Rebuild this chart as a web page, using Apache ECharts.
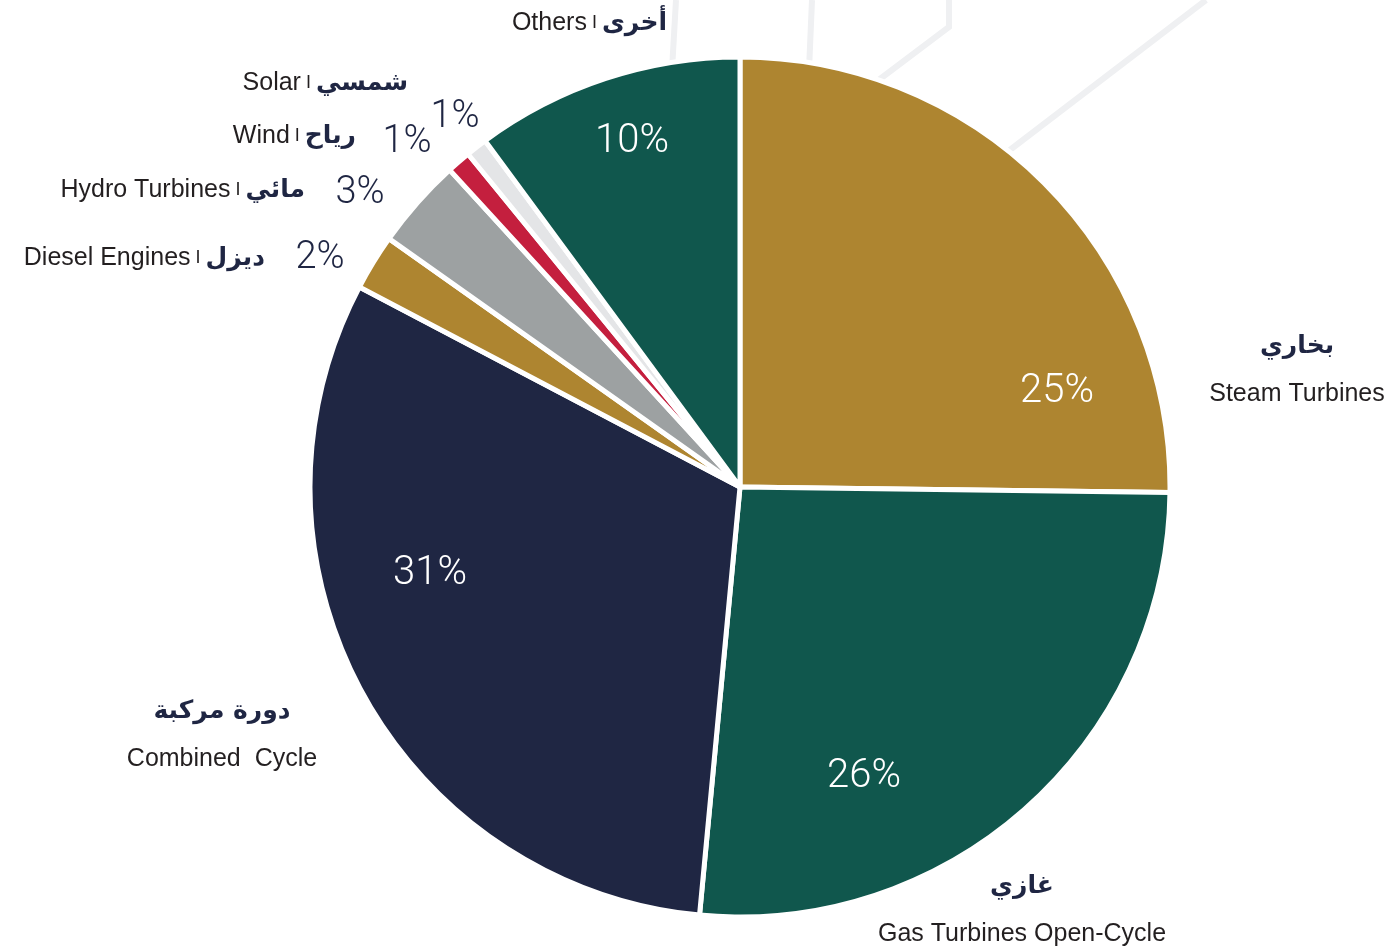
<!DOCTYPE html>
<html>
<head>
<meta charset="utf-8">
<script src="https://cdn.jsdelivr.net/npm/echarts@6/dist/echarts.min.js"></script>
<style>
  html, body { margin: 0; background: #fff; }
  #chart { width: 1391px; height: 951px; }
</style>
</head>
<body>
<div id="chart"></div>
<script>
// generation capacity mix, clockwise from 12 o'clock
const namesEn = ['Steam Turbines', 'Gas Turbines Open-Cycle', 'Combined  Cycle', 'Diesel Engines', 'Hydro Turbines', 'Wind', 'Solar', 'Others'];
const namesAr = ['بخاري', 'غازي', 'دورة مركبة', 'ديزل', 'مائي', 'رياح', 'شمسي', 'أخرى'];
const shares = [25.2, 26.3, 31.2, 2.1, 3.4, 0.9, 0.8, 10.1];
const shareLabels = ['25%', '26%', '31%', '2%', '3%', '1%', '1%', '10%'];

const colors = ['#ae8530', '#10574d', '#1f2643', '#ae8530', '#9da1a2', '#c41f3e', '#e4e5e7', '#10574d'];
const insideIdx = [0, 1, 2, 7];

// where the labels sit (px)
const pctPos = [[1057, 392], [864, 777], [430, 574], [320, 258], [360, 193], [407, 142], [455, 117], [632, 142]];
const namePos = [[1297, 370], [1022, 910], [222, 735], [265, 258], [305, 190], [356, 136], [408, 83], [667, 23]];

let chart = echarts.init(document.getElementById('chart'));

let pieData = shares.map((v, i) => ({
    name: namesEn[i],
    value: v,
    itemStyle: { color: colors[i] },
    label: insideIdx.includes(i)
        ? { color: '#ffffff', fontSize: 40 }
        : { color: '#1f2643', fontSize: 38 }
}));

let nameData = shares.map((v, i) => ({ name: namesEn[i], value: v }));

chart.setOption({
    animation: false,
    graphic: [
        { type: 'polyline', z: 0, shape: { points: [[676, 0], [672, 70]] }, style: { stroke: '#eff0f2', lineWidth: 6, fill: null } },
        { type: 'polyline', z: 0, shape: { points: [[812, 0], [809, 70]] }, style: { stroke: '#eff0f2', lineWidth: 6, fill: null } },
        { type: 'polyline', z: 0, shape: { points: [[949, 0], [949, 27], [872, 85]] }, style: { stroke: '#eff0f2', lineWidth: 6, fill: null } },
        { type: 'polyline', z: 0, shape: { points: [[1206, 0], [1002, 156]] }, style: { stroke: '#eff0f2', lineWidth: 6, fill: null } }
    ],
    series: [
        {
            type: 'pie',
            z: 5,
            center: [740, 487],
            radius: 430,
            startAngle: 90,
            clockwise: true,
            silent: true,
            itemStyle: { borderColor: '#ffffff', borderWidth: 5 },
            label: {
                show: true,
                fontFamily: 'Liberation Sans Narrow, Roboto',
                fontWeight: 300,
                formatter: p => shareLabels[p.dataIndex]
            },
            labelLine: { show: false },
            labelLayout: p => ({
                x: pctPos[p.dataIndex][0],
                y: pctPos[p.dataIndex][1],
                align: 'center',
                verticalAlign: 'middle'
            }),
            data: pieData
        },
        {
            type: 'pie',
            z: 6,
            center: [740, 487],
            radius: 430,
            startAngle: 90,
            clockwise: true,
            silent: true,
            itemStyle: { color: 'rgba(0,0,0,0)', borderWidth: 0 },
            label: {
                show: true,
                formatter: p => {
                    let i = p.dataIndex;
                    if (i < 3) return '{ar|' + namesAr[i] + '}\n{en|' + namesEn[i] + '}';
                    return '{en|' + namesEn[i] + '}{sep| I }{ar|' + namesAr[i] + '}';
                },
                rich: {
                    en: { fontFamily: 'Liberation Sans', fontSize: 25, color: '#231f20', lineHeight: 48 },
                    ar: { fontFamily: 'DejaVu Sans', fontWeight: 'bold', fontSize: 25, color: '#1f2643', lineHeight: 48 },
                    sep: { fontFamily: 'Liberation Sans', fontSize: 18, color: '#231f20' }
                }
            },
            labelLine: { show: false },
            labelLayout: p => ({
                x: namePos[p.dataIndex][0],
                y: namePos[p.dataIndex][1],
                align: p.dataIndex < 3 ? 'center' : 'right',
                verticalAlign: 'middle'
            }),
            data: nameData
        }
    ]
});
</script>
</body>
</html>
